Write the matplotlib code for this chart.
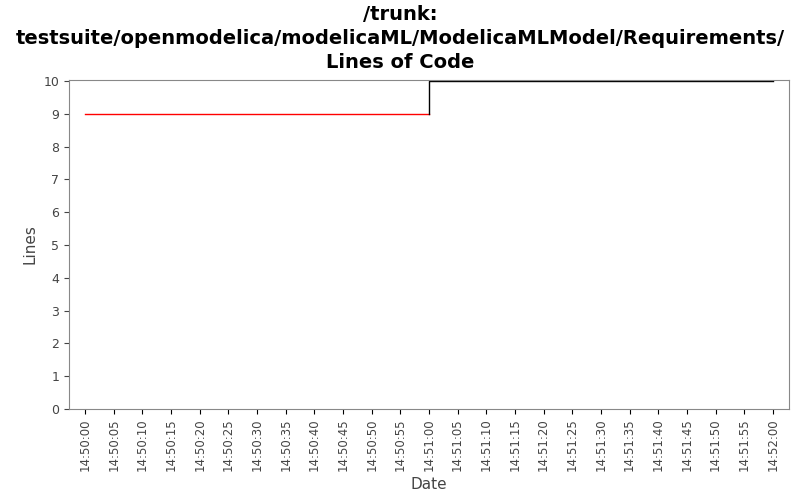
import matplotlib
matplotlib.use("Agg")
import matplotlib.pyplot as plt

# seconds after 14:50:00
red_t = [0, 60]
red_v = [9, 9]
black_t = [60, 60, 120]
black_v = [9, 10, 10]
tick_secs = list(range(0, 121, 5))
tick_labels = ["14:%02d:%02d" % (50 + s // 60, s % 60) for s in tick_secs]

fig = plt.figure(figsize=(8, 5), dpi=100)
ax = fig.add_axes([69/800, 1 - 409/500, 720/800, 329/500])
ax.plot(red_t, red_v, color="#ff0000", lw=1)
ax.plot(black_t, black_v, color="#000000", lw=1)
ax.set_xlim(-2.8, 122.8)
ax.set_ylim(0, 10.03)
ax.set_yticks(range(0, 11))
ax.set_xticks(tick_secs)
ax.set_xticklabels(tick_labels, rotation=90, fontsize=8.5, color="#444444")
ax.tick_params(axis="y", labelsize=9, colors="#444444")
for s in ax.spines.values():
    s.set_color("#888888")
ax.set_xlabel("Date", fontsize=11, color="#444444")
ax.set_ylabel("Lines", fontsize=11, color="#444444")
fig.suptitle("/trunk:\ntestsuite/openmodelica/modelicaML/ModelicaMLModel/Requirements/\nLines of Code",
             fontsize=14, fontweight="bold", y=0.99, linespacing=1.35)
fig.savefig("out.png")
